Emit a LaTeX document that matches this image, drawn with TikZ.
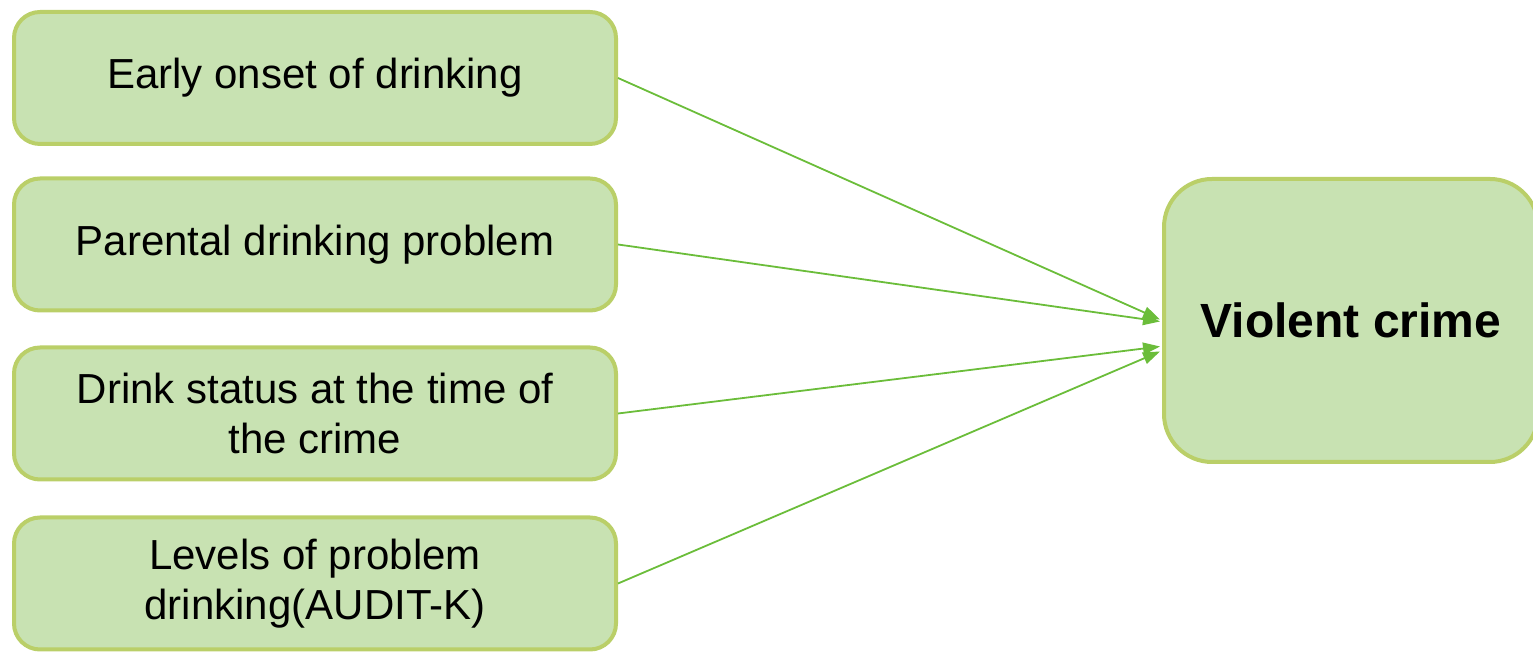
\documentclass[tikz,border=0pt]{standalone}
\usepackage{fontspec}
\setmainfont{Liberation Sans}
\usetikzlibrary{arrows.meta,calc}
\definecolor{boxfill}{HTML}{C8E2B2}
\definecolor{boxline}{HTML}{BACF68}
\definecolor{arrowgreen}{HTML}{6BBD3A}
\tikzset{
  factor/.style={draw=boxline, fill=boxfill, line width=4pt, rounded corners=26pt,
    minimum width=602pt, minimum height=132pt, align=center, inner sep=0pt,
    font=\fontsize{42}{50}\selectfont},
  outcome/.style={draw=boxline, fill=boxfill, line width=4pt, rounded corners=48pt,
    minimum width=374pt, minimum height=283pt, align=center, inner sep=0pt,
    font=\fontsize{48}{58}\selectfont\bfseries},
  link/.style={draw=arrowgreen, line width=1.8pt, -{Triangle[length=17pt,width=12pt]}}
}
\begin{document}
\begin{tikzpicture}[x=1pt,y=1pt]
\useasboundingbox (0,0) rectangle (1533,652);
\node[factor] (a) at (315,574) {\raisebox{-3pt}{Early onset of drinking}};
\node[factor] (b) at (315,407.5) {\raisebox{-3pt}{Parental drinking problem}};
\node[factor] (c) at (315,238.5) {Drink status at the time of\\the crime};
\node[factor] (d) at (315,68.5) {Levels of problem\\drinking(AUDIT-K)};
\node[outcome] (v) at (1351,331.5) {Violent crime};
\coordinate (t1) at ($(v.west)+(-2,1)$);
\coordinate (t2) at ($(v.west)+(-2,-1)$);
\coordinate (t3) at ($(v.west)+(-2,-26)$);
\coordinate (t4) at ($(v.west)+(-2,-31)$);
\draw[link] (a.east) -- (t1);
\draw[link] (b.east) -- (t2);
\draw[link] (c.east) -- (t3);
\draw[link] (d.east) -- (t4);
\end{tikzpicture}
\end{document}
